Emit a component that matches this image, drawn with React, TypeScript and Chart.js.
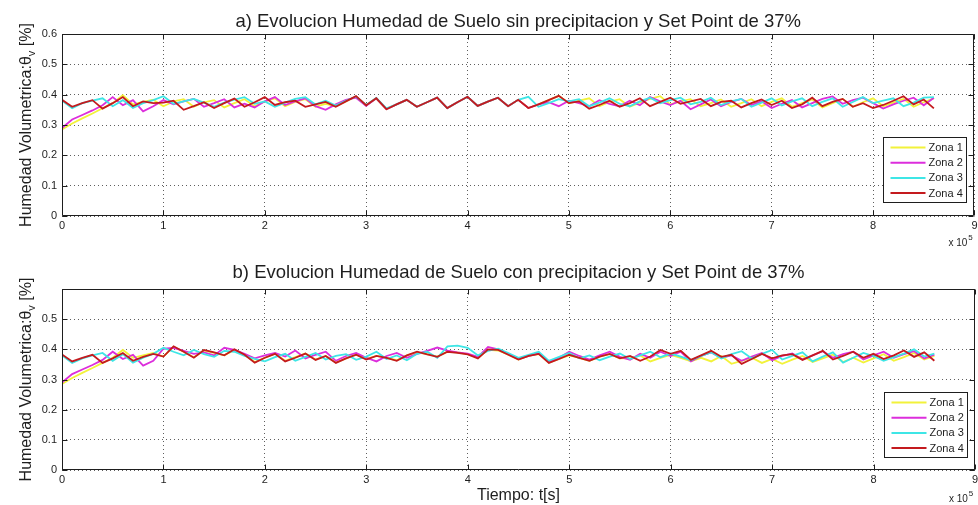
import React, { useEffect, useRef } from "react";
import { Chart, registerables } from "chart.js";

Chart.register(...registerables);

// time axis, in units of 1e5 s
const TIME_E5 = [
  0, 0.1, 0.2, 0.3, 0.4, 0.5, 0.6, 0.7, 0.8, 0.9,
  1.0, 1.1, 1.2, 1.3, 1.4, 1.5, 1.6, 1.7, 1.8, 1.9,
  2.0, 2.1, 2.2, 2.3, 2.4, 2.5, 2.6, 2.7, 2.8, 2.9,
  3.0, 3.1, 3.2, 3.3, 3.4, 3.5, 3.6, 3.7, 3.8, 3.9,
  4.0, 4.1, 4.2, 4.3, 4.4, 4.5, 4.6, 4.7, 4.8, 4.9,
  5.0, 5.1, 5.2, 5.3, 5.4, 5.5, 5.6, 5.7, 5.8, 5.9,
  6.0, 6.1, 6.2, 6.3, 6.4, 6.5, 6.6, 6.7, 6.8, 6.9,
  7.0, 7.1, 7.2, 7.3, 7.4, 7.5, 7.6, 7.7, 7.8, 7.9,
  8.0, 8.1, 8.2, 8.3, 8.4, 8.5, 8.6,
];

const SERIES_NAMES = ["Zona 1", "Zona 2", "Zona 3", "Zona 4"];
const X_TICK_LABELS = ["0", "1", "2", "3", "4", "5", "6", "7", "8", "9"];
const Y_TICK_LABELS_A = ["0", "0.1", "0.2", "0.3", "0.4", "0.5", "0.6"];
const Y_TICK_LABELS_B = ["0", "0.1", "0.2", "0.3", "0.4", "0.5", ""];

const TITLE_A = "a) Evolucion Humedad de Suelo sin precipitacion y Set Point de 37%";
const TITLE_B = "b) Evolucion Humedad de Suelo con precipitacion y Set Point de 37%";
const X_TITLE = "Tiempo: t[s]";

// ---- a) sin precipitacion ----
const A_ZONA1 = [
  0.285, 0.305, 0.322, 0.338, 0.355, 0.372, 0.398, 0.368, 0.376, 0.383,
  0.362, 0.378, 0.385, 0.360, 0.375, 0.382, 0.358, 0.372, 0.385, 0.362,
  0.378, 0.388, 0.362, 0.376, 0.385, 0.360, 0.370, 0.362, 0.378, 0.394,
  0.365, 0.388, 0.352, 0.368, 0.383, 0.360, 0.375, 0.390, 0.356, 0.375,
  0.393, 0.363, 0.377, 0.390, 0.362, 0.383, 0.356, 0.368, 0.382, 0.396,
  0.372, 0.380, 0.388, 0.362, 0.376, 0.385, 0.360, 0.374, 0.386, 0.395,
  0.368, 0.378, 0.385, 0.362, 0.372, 0.384, 0.360, 0.372, 0.385, 0.362,
  0.376, 0.388, 0.360, 0.372, 0.384, 0.358, 0.372, 0.386, 0.360, 0.375,
  0.388, 0.362, 0.374, 0.386, 0.360, 0.375, 0.388,
];
const A_ZONA2 = [
  0.290, 0.318, 0.333, 0.348, 0.365, 0.392, 0.365, 0.382, 0.345, 0.362,
  0.382, 0.368, 0.378, 0.386, 0.360, 0.372, 0.385, 0.358, 0.370, 0.358,
  0.378, 0.392, 0.366, 0.378, 0.388, 0.362, 0.350, 0.368, 0.383, 0.390,
  0.363, 0.388, 0.352, 0.368, 0.383, 0.360, 0.375, 0.390, 0.356, 0.375,
  0.393, 0.363, 0.377, 0.390, 0.362, 0.383, 0.356, 0.368, 0.375, 0.362,
  0.380, 0.372, 0.362, 0.382, 0.370, 0.362, 0.380, 0.365, 0.392, 0.378,
  0.366, 0.380, 0.352, 0.368, 0.384, 0.362, 0.376, 0.386, 0.366, 0.378,
  0.356, 0.370, 0.382, 0.358, 0.372, 0.386, 0.394, 0.370, 0.382, 0.390,
  0.372, 0.354, 0.368, 0.380, 0.390, 0.365, 0.390,
];
const A_ZONA3 = [
  0.380, 0.355, 0.372, 0.380, 0.388, 0.362, 0.382, 0.356, 0.372, 0.382,
  0.395, 0.370, 0.378, 0.386, 0.374, 0.360, 0.374, 0.384, 0.392, 0.370,
  0.378, 0.360, 0.374, 0.386, 0.392, 0.368, 0.380, 0.364, 0.380, 0.394,
  0.366, 0.389, 0.355, 0.368, 0.383, 0.360, 0.375, 0.390, 0.356, 0.375,
  0.393, 0.363, 0.377, 0.390, 0.362, 0.383, 0.393, 0.360, 0.372, 0.385,
  0.378, 0.385, 0.362, 0.374, 0.388, 0.370, 0.362, 0.378, 0.390, 0.372,
  0.382, 0.390, 0.368, 0.376, 0.390, 0.366, 0.378, 0.386, 0.360, 0.374,
  0.388, 0.364, 0.378, 0.388, 0.362, 0.376, 0.388, 0.360, 0.376, 0.392,
  0.372, 0.380, 0.388, 0.362, 0.374, 0.390, 0.392,
];
const A_ZONA4 = [
  0.383, 0.360, 0.372, 0.382, 0.354, 0.372, 0.392, 0.362, 0.378, 0.372,
  0.374, 0.380, 0.350, 0.362, 0.375, 0.356, 0.372, 0.387, 0.360, 0.375,
  0.392, 0.366, 0.375, 0.380, 0.360, 0.368, 0.376, 0.360, 0.378, 0.395,
  0.365, 0.388, 0.352, 0.368, 0.383, 0.360, 0.375, 0.390, 0.356, 0.375,
  0.393, 0.363, 0.377, 0.390, 0.362, 0.383, 0.356, 0.368, 0.382, 0.396,
  0.372, 0.378, 0.354, 0.366, 0.380, 0.360, 0.372, 0.388, 0.362, 0.376,
  0.390, 0.370, 0.378, 0.386, 0.362, 0.376, 0.380, 0.358, 0.372, 0.384,
  0.366, 0.380, 0.356, 0.368, 0.390, 0.362, 0.376, 0.386, 0.360, 0.372,
  0.356, 0.366, 0.380, 0.395, 0.368, 0.384, 0.355,
];

// ---- b) con precipitacion ----
const B_ZONA1 = [
  0.285, 0.305, 0.322, 0.338, 0.355, 0.372, 0.398, 0.372, 0.380, 0.388,
  0.376, 0.408, 0.392, 0.374, 0.396, 0.388, 0.380, 0.398, 0.382, 0.358,
  0.372, 0.386, 0.362, 0.374, 0.386, 0.366, 0.378, 0.356, 0.370, 0.382,
  0.368, 0.378, 0.372, 0.364, 0.380, 0.390, 0.384, 0.376, 0.392, 0.390,
  0.384, 0.372, 0.398, 0.396, 0.382, 0.366, 0.378, 0.384, 0.356, 0.368,
  0.380, 0.372, 0.362, 0.376, 0.384, 0.370, 0.370, 0.380, 0.360, 0.372,
  0.382, 0.372, 0.360, 0.372, 0.360, 0.378, 0.352, 0.362, 0.372, 0.355,
  0.368, 0.352, 0.366, 0.378, 0.358, 0.370, 0.382, 0.358, 0.372, 0.356,
  0.370, 0.384, 0.362, 0.374, 0.388, 0.366, 0.378,
];
const B_ZONA2 = [
  0.290, 0.318, 0.333, 0.348, 0.365, 0.392, 0.368, 0.382, 0.346, 0.362,
  0.402, 0.405, 0.395, 0.385, 0.390, 0.380, 0.405, 0.398, 0.385, 0.370,
  0.380, 0.388, 0.376, 0.396, 0.370, 0.382, 0.392, 0.362, 0.378, 0.388,
  0.372, 0.360, 0.378, 0.388, 0.372, 0.385, 0.395, 0.406, 0.396, 0.390,
  0.386, 0.375, 0.408, 0.400, 0.385, 0.368, 0.378, 0.386, 0.358, 0.372,
  0.392, 0.378, 0.366, 0.380, 0.392, 0.375, 0.365, 0.385, 0.372, 0.392,
  0.378, 0.392, 0.360, 0.378, 0.390, 0.372, 0.380, 0.362, 0.376, 0.388,
  0.364, 0.378, 0.386, 0.366, 0.380, 0.394, 0.372, 0.384, 0.392, 0.366,
  0.380, 0.392, 0.372, 0.384, 0.394, 0.370, 0.382,
];
const B_ZONA3 = [
  0.380, 0.355, 0.370, 0.380, 0.388, 0.362, 0.384, 0.356, 0.372, 0.385,
  0.405, 0.392, 0.380, 0.398, 0.384, 0.375, 0.395, 0.392, 0.378, 0.368,
  0.360, 0.374, 0.385, 0.362, 0.375, 0.388, 0.366, 0.378, 0.384, 0.365,
  0.376, 0.392, 0.368, 0.380, 0.364, 0.385, 0.392, 0.372, 0.410, 0.412,
  0.405, 0.380, 0.395, 0.402, 0.388, 0.372, 0.382, 0.392, 0.362, 0.375,
  0.388, 0.370, 0.380, 0.364, 0.376, 0.386, 0.368, 0.380, 0.392, 0.374,
  0.386, 0.376, 0.364, 0.378, 0.390, 0.370, 0.384, 0.394, 0.370, 0.385,
  0.398, 0.366, 0.378, 0.390, 0.360, 0.376, 0.390, 0.356, 0.372, 0.388,
  0.378, 0.362, 0.374, 0.386, 0.400, 0.376, 0.386,
];
const B_ZONA4 = [
  0.383, 0.360, 0.372, 0.382, 0.355, 0.370, 0.388, 0.362, 0.375, 0.385,
  0.376, 0.410, 0.392, 0.372, 0.398, 0.390, 0.380, 0.400, 0.382, 0.356,
  0.372, 0.385, 0.360, 0.372, 0.386, 0.365, 0.378, 0.355, 0.370, 0.382,
  0.366, 0.378, 0.372, 0.362, 0.380, 0.392, 0.383, 0.375, 0.392, 0.388,
  0.383, 0.370, 0.400, 0.398, 0.382, 0.366, 0.378, 0.385, 0.355, 0.368,
  0.382, 0.372, 0.362, 0.376, 0.385, 0.370, 0.378, 0.362, 0.376, 0.398,
  0.385, 0.395, 0.365, 0.380, 0.395, 0.375, 0.382, 0.352, 0.368, 0.385,
  0.370, 0.380, 0.384, 0.365, 0.380, 0.395, 0.366, 0.378, 0.392, 0.372,
  0.385, 0.368, 0.380, 0.396, 0.375, 0.390, 0.362,
];

const LINE_COLORS = ["#f2f23a", "#dc2edc", "#3ee6e6", "#c41a1e"];
const FONT = "'Liberation Sans', Arial, Helvetica, sans-serif";
const INK = "#1e1e1e";
const CANVAS_W = 981;

function framePlugin() {
  return {
    id: "frame",
    afterDraw(chart: any) {
      const { ctx, chartArea: a, scales } = chart;
      ctx.save();
      ctx.strokeStyle = INK;
      ctx.lineWidth = 1;
      ctx.setLineDash([]);
      ctx.beginPath();
      const L = Math.round(a.left) + 0.5, R = Math.round(a.right) - 0.5;
      const T = Math.round(a.top) + 0.5, B = Math.round(a.bottom) - 0.5;
      ctx.rect(L, T, R - L, B - T);
      const tl = 5;
      scales.x.ticks.forEach((t: any) => {
        const px = Math.round(scales.x.getPixelForValue(t.value)) + 0.5;
        ctx.moveTo(px, B); ctx.lineTo(px, B - tl);
        ctx.moveTo(px, T); ctx.lineTo(px, T + tl);
      });
      scales.y.ticks.forEach((t: any) => {
        const py = Math.round(scales.y.getPixelForValue(t.value)) + 0.5;
        ctx.moveTo(L, py); ctx.lineTo(L + tl, py);
        ctx.moveTo(R, py); ctx.lineTo(R - tl, py);
      });
      ctx.stroke();
      ctx.restore();
    },
  };
}

function legendPlugin(bottomGap: number) {
  return {
    id: "boxLegend",
    afterDraw(chart: any) {
      const { ctx, chartArea: a } = chart;
      const w = 83, h = 65;
      const x = Math.round(a.right - 8 - w) + 0.5;
      const y = Math.round(a.bottom - bottomGap - h) + 0.5;
      ctx.save();
      ctx.fillStyle = "#ffffff";
      ctx.fillRect(x, y, w, h);
      ctx.strokeStyle = INK;
      ctx.lineWidth = 1;
      ctx.strokeRect(x, y, w, h);
      ctx.font = `11px ${FONT}`;
      ctx.textBaseline = "middle";
      ctx.textAlign = "left";
      chart.data.datasets.forEach((ds: any, i: number) => {
        const ry = y + 10 + i * 15.2;
        ctx.strokeStyle = ds.borderColor;
        ctx.lineWidth = 2;
        ctx.beginPath();
        ctx.moveTo(x + 7, ry);
        ctx.lineTo(x + 42, ry);
        ctx.stroke();
        ctx.fillStyle = INK;
        ctx.fillText(ds.label, x + 45, ry + 0.5);
      });
      ctx.restore();
    },
  };
}

function yTitlePlugin() {
  return {
    id: "yTitle",
    afterDraw(chart: any) {
      const { ctx, chartArea: a } = chart;
      const cy = (a.top + a.bottom) / 2;
      const main = "Humedad Volumetrica:\u03b8";
      const sub = "v";
      const tail = " [%]";
      ctx.save();
      ctx.fillStyle = INK;
      ctx.textBaseline = "alphabetic";
      ctx.textAlign = "left";
      ctx.font = `16px ${FONT}`;
      const w1 = ctx.measureText(main).width;
      const w3 = ctx.measureText(tail).width;
      ctx.font = `11px ${FONT}`;
      const w2 = ctx.measureText(sub).width;
      const total = w1 + w2 + w3;
      ctx.translate(31, cy);
      ctx.rotate(-Math.PI / 2);
      let x = -total / 2;
      ctx.font = `16px ${FONT}`;
      ctx.fillText(main, x, 0);
      x += w1;
      ctx.font = `11px ${FONT}`;
      ctx.fillText(sub, x, 4);
      x += w2;
      ctx.font = `16px ${FONT}`;
      ctx.fillText(tail, x, 0);
      ctx.restore();
    },
  };
}

function exponentPlugin(dy: number) {
  return {
    id: "exponent",
    afterDraw(chart: any) {
      const { ctx, chartArea: a } = chart;
      ctx.save();
      ctx.fillStyle = INK;
      ctx.textBaseline = "alphabetic";
      ctx.textAlign = "left";
      ctx.font = `10px ${FONT}`;
      const x0 = a.right - 26;
      const base = a.bottom + dy;
      ctx.fillText("x 10", x0, base);
      const w = ctx.measureText("x 10").width;
      ctx.font = `8px ${FONT}`;
      ctx.fillText("5", x0 + w + 1, base - 6);
      ctx.restore();
    },
  };
}

function buildDatasets(series: number[][]) {
  const orders = [3, 2, 1, 0];
  return series.map((vals, i) => ({
    label: SERIES_NAMES[i],
    data: vals.map((v, k) => ({ x: TIME_E5[k] * 1e5, y: v })),
    borderColor: LINE_COLORS[i],
    backgroundColor: LINE_COLORS[i],
    borderWidth: 1.8,
    pointRadius: 0,
    tension: 0,
    fill: false,
    order: orders[i],
  }));
}

function makeConfig(p: {
  series: number[][];
  title: string;
  titlePadTop: number;
  titlePadBottom: number;
  xHeight: number;
  xTickPad: number;
  yLabels: string[];
  showXTitle: boolean;
  legendGap: number;
  expDy: number;
}): any {
  return {
    type: "line",
    data: { datasets: buildDatasets(p.series) },
    options: {
      responsive: false,
      animation: false,
      devicePixelRatio: 1,
      layout: { padding: { left: 0, right: 0, top: 0, bottom: 0 } },
      plugins: {
        legend: { display: false },
        tooltip: { enabled: false },
        title: {
          display: true,
          fullSize: false,
          text: p.title,
          color: INK,
          font: { family: FONT, size: 18.5, weight: "normal", lineHeight: 1.2 },
          padding: { top: p.titlePadTop, bottom: p.titlePadBottom },
        },
      },
      scales: {
        x: {
          type: "linear",
          min: 0,
          max: 9e5,
          afterFit: (s: any) => { s.height = p.xHeight; },
          ticks: {
            stepSize: 1e5,
            padding: p.xTickPad,
            color: INK,
            font: { family: FONT, size: 11 },
            maxRotation: 0,
            autoSkip: false,
            callback: (_v: any, i: number) => X_TICK_LABELS[i],
          },
          grid: { color: "rgba(40,40,40,0.75)", lineWidth: 1, drawTicks: false },
          border: { display: false, dash: [1, 3] },
          title: {
            display: p.showXTitle,
            text: X_TITLE,
            color: INK,
            font: { family: FONT, size: 16 },
            padding: { top: 0, bottom: 0 },
          },
        },
        y: {
          type: "linear",
          min: 0,
          max: 0.6,
          afterFit: (s: any) => { s.width = 62; },
          ticks: {
            stepSize: 0.1,
            padding: 5,
            color: INK,
            font: { family: FONT, size: 11 },
            callback: (_v: any, i: number) => p.yLabels[i],
          },
          grid: { color: "rgba(40,40,40,0.75)", lineWidth: 1, drawTicks: false },
          border: { display: false, dash: [1, 3] },
        },
      },
    },
    plugins: [framePlugin(), legendPlugin(p.legendGap), yTitlePlugin(), exponentPlugin(p.expDy)],
  };
}

function ChartCanvas(props: { config: any; width: number; height: number; top: number }) {
  const ref = useRef<HTMLCanvasElement | null>(null);
  useEffect(() => {
    if (!ref.current) return;
    const chart = new Chart(ref.current, props.config);
    return () => chart.destroy();
  }, []);
  return (
    <canvas
      ref={ref}
      width={props.width}
      height={props.height}
      style={{ position: "absolute", left: 0, top: props.top, width: props.width, height: props.height }}
    />
  );
}

export default function App() {
  const cfgA = makeConfig({
    series: [A_ZONA1, A_ZONA2, A_ZONA3, A_ZONA4],
    title: TITLE_A,
    titlePadTop: 10.6,
    titlePadBottom: 1.2,
    xHeight: 34,
    xTickPad: 3.5,
    yLabels: Y_TICK_LABELS_A,
    showXTitle: false,
    legendGap: 14,
    expDy: 30,
  });
  const cfgB = makeConfig({
    series: [B_ZONA1, B_ZONA2, B_ZONA3, B_ZONA4],
    title: TITLE_B,
    titlePadTop: 11.9,
    titlePadBottom: 4.9,
    xHeight: 35,
    xTickPad: 3,
    yLabels: Y_TICK_LABELS_B,
    showXTitle: true,
    legendGap: 13,
    expDy: 32,
  });
  return (
    <div style={{ position: "absolute", left: 0, top: 0, width: 978, height: 505, background: "#ffffff", overflow: "hidden" }}>
      <ChartCanvas config={cfgA} width={CANVAS_W} height={250} top={0} />
      <ChartCanvas config={cfgB} width={CANVAS_W} height={255} top={250} />
    </div>
  );
}
